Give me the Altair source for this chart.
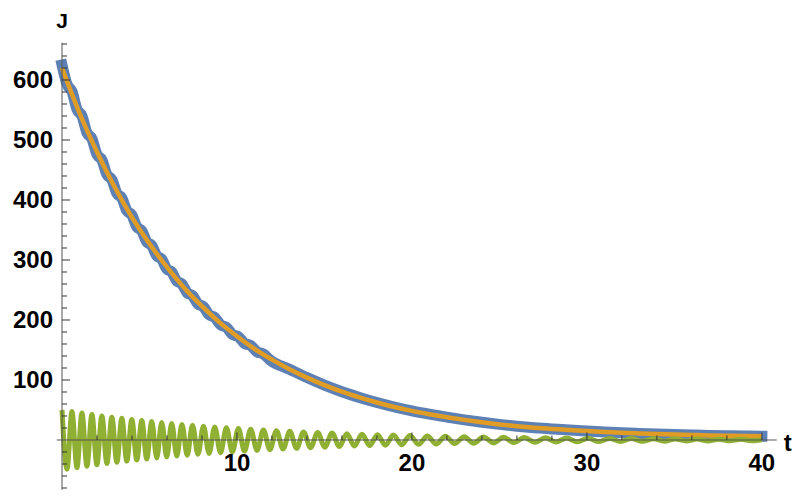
import altair as alt
import pandas as pd

# ---- data ----
t_green = [0, 0.285, 0.57, 0.855, 1.14, 1.425, 1.71, 1.995, 2.28, 2.565,
           2.85, 3.135, 3.42, 3.705, 3.99, 4.275, 4.56, 4.845, 5.13, 5.415,
           5.7, 5.985, 6.27, 6.56, 6.855, 7.155, 7.46, 7.77, 8.085, 8.405,
           8.73, 9.06, 9.395, 9.735, 10.08, 10.43, 10.785, 11.145, 11.51, 11.88,
           12.255, 12.635, 13.02, 13.41, 13.805, 14.205, 14.61, 15.02, 15.435, 15.855,
           16.28, 16.71, 17.145, 17.585, 18.03, 18.48, 18.94, 19.41, 19.89, 20.38,
           20.88, 21.39, 21.91, 22.44, 22.98, 23.53, 24.09, 24.66, 25.24, 25.83,
           26.425, 27.025, 27.625, 28.23, 28.84, 29.45, 30.065, 30.685, 31.305, 31.925,
           32.545, 33.17, 33.795, 34.42, 35.045, 35.67, 36.295, 36.92, 37.545, 38.17,
           38.795, 39.42, 40.0]
green_vals = [50, -48.7, 47.4, -46.1, 44.9, -43.7, 42.5, -41.4, 40.2, -39.2,
              38.1, -37.1, 36.1, -35.1, 34.2, -33.3, 32.4, -31.5, 30.7, -29.8,
              29.1, -28.3, 27.5, -26.8, 26.0, -25.3, 24.6, -23.8, 23.1, -22.4,
              21.8, -21.1, 20.4, -19.8, 19.1, -18.5, 17.9, -17.3, 16.7, -16.2,
              15.6, -15.0, 14.5, -13.9, 13.4, -12.9, 12.4, -11.9, 11.5, -11.0,
              10.6, -10.1, 9.7, -9.3, 8.9, -8.6, 8.2, -7.8, 7.5, -7.1,
              6.8, -6.5, 6.2, -5.9, 5.6, -5.3, 5.0, -4.8, 4.5, -4.3,
              4.0, -3.8, 3.6, -3.4, 3.2, -3.0, 2.9, -2.7, 2.6, -2.4,
              2.3, -2.2, 2.0, -1.9, 1.8, -1.7, 1.6, -1.5, 1.4, -1.3,
              1.3, -1.2, 0.5]

t_orange = list(range(0, 41))
orange_vals = [620, 545, 480, 422, 371, 327, 288, 253, 223, 196,
               173, 152, 134, 118, 104, 91.5, 80.5, 71, 62.5, 55,
               48.5, 43, 38, 33.5, 29.5, 26, 23, 20.5, 18.5, 16.5,
               15, 13.5, 12, 11, 10, 9, 8.3, 7.7, 7.1, 6.6, 6.2]

blue_early = [625, 592.8, 581.1, 551.0, 540.2, 512.1, 502.2, 476.0, 466.9, 442.4,
              434.0, 411.1, 403.5, 382.1, 375.2, 355.1, 348.7, 330.0, 324.2, 306.8,
              301.4, 285.1, 280.2, 264.8, 260.0, 245.3, 240.7, 226.7, 222.2, 208.8,
              204.5, 191.9, 187.9, 176.1, 172.2, 161.0, 157.4, 146.9, 143.4, 133.6]

x_major = [10, 20, 30, 40]
x_minor = [2, 4, 6, 8, 12, 14, 16, 18, 22, 24, 26, 28, 32, 34, 36, 38]
y_major = [100, 200, 300, 400, 500, 600]
y_minor = [-80, -60, -40, -20, 20, 40, 60, 80, 120, 140, 160, 180, 220, 240, 260, 280,
           320, 340, 360, 380, 420, 440, 460, 480, 520, 540, 560, 580, 620, 640, 660]

# ---- tables ----
t_blue = t_green[:40] + t_orange[13:]
blue_vals = blue_early + orange_vals[13:]
df_blue = pd.DataFrame({"t": t_blue, "J": blue_vals})
df_orange = pd.DataFrame({"t": t_orange, "J": orange_vals})
df_green = pd.DataFrame({"t": t_green, "J": green_vals})

XD = [-0.3, 40.85]
YD = [-83, 662]
xs = alt.Scale(domain=XD, nice=False, zero=False)
ys = alt.Scale(domain=YD, nice=False, zero=False)

FONT = "Liberation Sans"
AX = "#555555"
TK = "#333333"


def X(f):
    return alt.X(f, type="quantitative", scale=xs, axis=None)


def Y(f):
    return alt.Y(f, type="quantitative", scale=ys, axis=None)


def line(df, color, width, cap):
    return alt.Chart(df).mark_line(
        color=color, strokeWidth=width, strokeCap=cap, interpolate="monotone"
    ).encode(x=X("t"), y=Y("J"))


blue = line(df_blue, "#5E81B5", 11, "square")
orange = line(df_orange, "#E19C24", 4.5, "butt")
green = line(df_green, "#8FB032", 5, "butt")

x_axis = alt.Chart(pd.DataFrame({"a": [XD[0]], "b": [XD[1]], "z": [0]})).mark_rule(
    color=AX, strokeWidth=1).encode(x=X("a"), x2="b", y=Y("z"))
y_axis = alt.Chart(pd.DataFrame({"a": [YD[0]], "b": [YD[1]], "z": [0]})).mark_rule(
    color=AX, strokeWidth=1).encode(y=Y("a"), y2="b", x=X("z"))


def xticks(vals, length):
    df = pd.DataFrame({"v": vals, "lo": [0] * len(vals), "hi": [length] * len(vals)})
    return alt.Chart(df).mark_rule(color=TK, strokeWidth=1).encode(
        x=X("v"), y=Y("lo"), y2="hi")


def yticks(vals, length):
    df = pd.DataFrame({"v": vals, "lo": [0] * len(vals), "hi": [length] * len(vals)})
    return alt.Chart(df).mark_rule(color=TK, strokeWidth=1).encode(
        y=Y("v"), x=X("lo"), x2="hi")


txt = dict(font=FONT, fontSize=24, fontWeight="bold", color="black")

xlab = alt.Chart(pd.DataFrame({"v": x_major, "z": [0] * 4, "s": [str(v) for v in x_major]})).mark_text(
    align="center", baseline="middle", dy=24, **txt
).encode(x=X("v"), y=Y("z"), text="s:N")

ylab = alt.Chart(pd.DataFrame({"v": y_major, "z": [0] * 6, "s": [str(v) for v in y_major]})).mark_text(
    align="right", baseline="middle", dx=-9, dy=1.5, **txt
).encode(y=Y("v"), x=X("z"), text="s:N")

jlab = alt.Chart(pd.DataFrame({"x": [0], "y": [YD[1]], "s": ["J"]})).mark_text(
    align="center", baseline="alphabetic", dy=-15,
    font=FONT, fontSize=21, fontWeight="bold", color="black"
).encode(x=X("x"), y=Y("y"), text="s:N")

tlab = alt.Chart(pd.DataFrame({"x": [XD[1]], "y": [0], "s": ["t"]})).mark_text(
    align="left", baseline="alphabetic", dx=7, dy=11, **txt
).encode(x=X("x"), y=Y("y"), text="s:N")

chart = alt.layer(
    blue, orange, green,
    x_axis, y_axis,
    xticks(x_major, 12.5), xticks(x_minor, 7.5),
    yticks(y_major, 0.46), yticks(y_minor, 0.29),
    xlab, ylab, jlab, tlab,
).properties(
    width=720, height=447,
    padding={"left": 48.75, "top": 34.8, "right": 17, "bottom": 0},
    autosize=alt.AutoSizeParams(type="none"),
).configure_view(strokeOpacity=0)

chart.save("out.html", embed_options={"renderer": "svg", "actions": False})
